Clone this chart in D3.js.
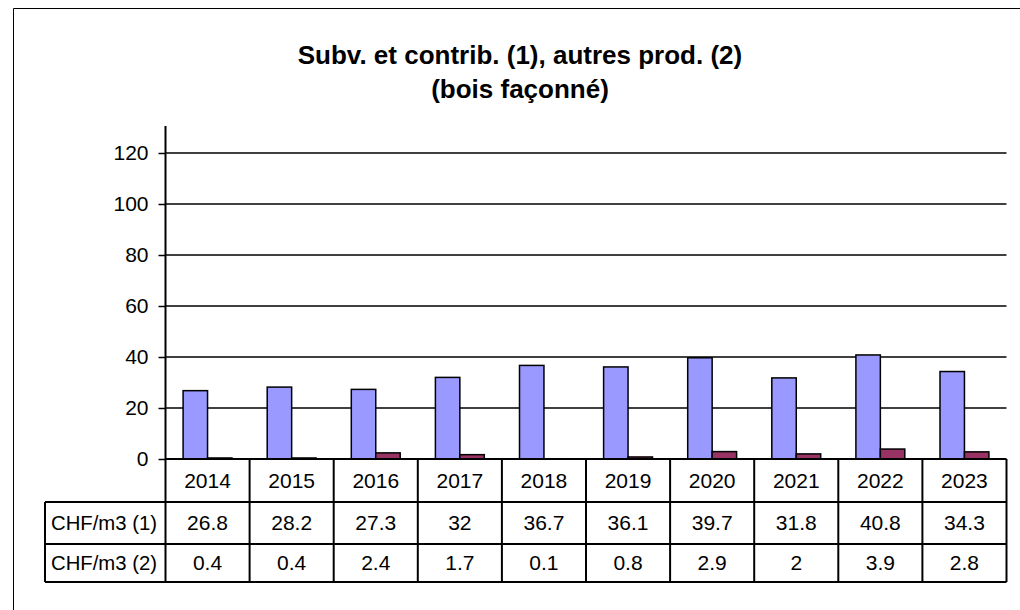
<!DOCTYPE html>
<html>
<head>
<meta charset="utf-8">
<script src="https://cdn.jsdelivr.net/npm/d3@7"></script>
<style>
  body { margin: 0; background: #fff; }
  svg { display: block; font-family: "Liberation Sans", Arial, sans-serif; }
</style>
</head>
<body>
<div id="chart"></div>
<script>
// chart data
const years = ["2014", "2015", "2016", "2017", "2018", "2019", "2020", "2021", "2022", "2023"];
const seriesNames = ["CHF/m3 (1)", "CHF/m3 (2)"];
const subventions = [26.8, 28.2, 27.3, 32, 36.7, 36.1, 39.7, 31.8, 40.8, 34.3];
const autresProd = [0.4, 0.4, 2.4, 1.7, 0.1, 0.8, 2.9, 2, 3.9, 2.8];
const yTicks = [0, 20, 40, 60, 80, 100, 120];
const colors = ["#9999ff", "#993366"];

const width = 1020, height = 610;
const plotLeft = 165.5, plotRight = 1006.5, plotTop = 126, zeroY = 459;
const tableLeft = 45, rowBottoms = [502, 544, 582];
const fontSize = 21;

const svg = d3.select("#chart").append("svg")
  .attr("width", width)
  .attr("height", height);

// outer frame (right and bottom cut off)
svg.append("path")
  .attr("d", `M13.5,${height} V8.5 H${width}`)
  .attr("fill", "none").attr("stroke", "#000").attr("stroke-width", 1);

// title
const title = svg.append("text")
  .attr("text-anchor", "middle")
  .attr("font-weight", "bold")
  .attr("font-size", 26);
title.append("tspan").attr("x", 520).attr("y", 64).text("Subv. et contrib. (1), autres prod. (2)");
title.append("tspan").attr("x", 520).attr("y", 98).text("(bois façonné)");

const x = d3.scaleBand().domain(years).range([plotLeft, plotRight]).padding(0);
const xs = d3.scaleBand().domain([0, 1]).range([0, x.bandwidth()]).paddingInner(0).paddingOuter(0.72);
const y = d3.scaleLinear().domain([0, 120]).range([zeroY, 153]);

// gridlines
svg.append("g")
  .selectAll("line")
  .data(yTicks.filter(d => d > 0))
  .join("line")
  .attr("x1", plotLeft).attr("x2", plotRight)
  .attr("y1", d => y(d)).attr("y2", d => y(d))
  .attr("stroke", "#000").attr("stroke-width", 1.5);

// y axis
const yAxis = svg.append("g")
  .attr("transform", `translate(${plotLeft},0)`)
  .call(d3.axisLeft(y).tickValues(yTicks).tickSize(7).tickPadding(10).tickSizeOuter(0));
yAxis.select(".domain").remove();
yAxis.selectAll(".tick line").attr("stroke-width", 1.5);
yAxis.selectAll("text").attr("font-size", fontSize).attr("fill", "#000").attr("font-family", "Liberation Sans, Arial, sans-serif");
svg.append("line")
  .attr("x1", plotLeft).attr("x2", plotLeft).attr("y1", plotTop).attr("y2", rowBottoms[2])
  .attr("stroke", "#000").attr("stroke-width", 2);

// bars
const series = [subventions, autresProd];
svg.append("g")
  .selectAll("g")
  .data(series)
  .join("g")
  .attr("fill", (d, i) => colors[i])
  .each(function (vals, si) {
    d3.select(this).selectAll("rect")
      .data(vals)
      .join("rect")
      .attr("x", (d, i) => x(years[i]) + xs(si))
      .attr("width", xs.bandwidth())
      .attr("y", d => y(d))
      .attr("height", d => y(0) - y(d))
      .attr("stroke", "#000").attr("stroke-width", 1.5);
  });

// x axis line
svg.append("line")
  .attr("x1", plotLeft).attr("x2", plotRight).attr("y1", zeroY).attr("y2", zeroY)
  .attr("stroke", "#000").attr("stroke-width", 2);

// data table
const grid = svg.append("g").attr("stroke", "#000").attr("stroke-width", 2);
years.forEach(yr => {
  grid.append("line")
    .attr("x1", x(yr) + x.bandwidth()).attr("x2", x(yr) + x.bandwidth())
    .attr("y1", zeroY).attr("y2", rowBottoms[2]);
});
rowBottoms.forEach(rb => {
  grid.append("line").attr("x1", tableLeft).attr("x2", plotRight).attr("y1", rb).attr("y2", rb);
});
grid.append("line").attr("x1", tableLeft).attr("x2", tableLeft).attr("y1", rowBottoms[0]).attr("y2", rowBottoms[2]);

const rowMid = [(zeroY + rowBottoms[0]) / 2, (rowBottoms[0] + rowBottoms[1]) / 2, (rowBottoms[1] + rowBottoms[2]) / 2];

svg.append("g")
  .selectAll("text")
  .data(years)
  .join("text")
  .attr("x", d => x(d) + x.bandwidth() / 2)
  .attr("y", rowMid[0])
  .attr("dy", "0.35em")
  .attr("text-anchor", "middle")
  .attr("font-size", fontSize)
  .text(d => d);

series.forEach((vals, si) => {
  svg.append("text")
    .attr("x", tableLeft + 6)
    .attr("y", rowMid[si + 1])
    .attr("dy", "0.35em")
    .attr("font-size", fontSize)
    .attr("textLength", 106)
    .attr("lengthAdjust", "spacingAndGlyphs")
    .text(seriesNames[si]);
  svg.append("g")
    .selectAll("text")
    .data(vals)
    .join("text")
    .attr("x", (d, i) => x(years[i]) + x.bandwidth() / 2)
    .attr("y", rowMid[si + 1])
    .attr("dy", "0.35em")
    .attr("text-anchor", "middle")
    .attr("font-size", fontSize)
    .text(d => d);
});
</script>
</body>
</html>
